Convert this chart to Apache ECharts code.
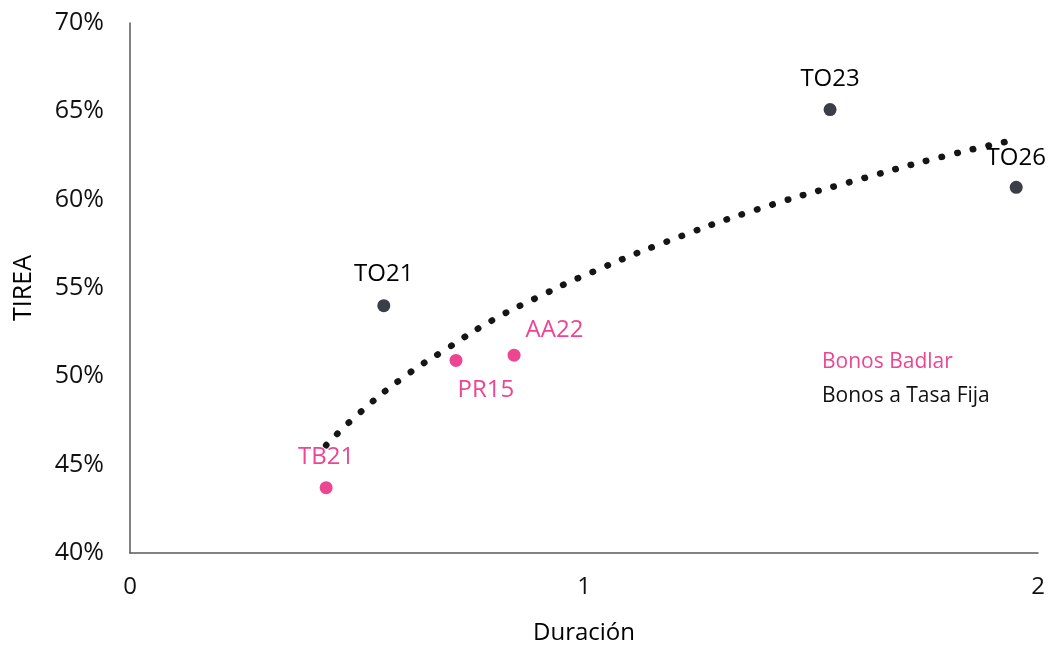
<!DOCTYPE html>
<html><head><meta charset="utf-8">
<script src="https://cdn.jsdelivr.net/npm/echarts@6/dist/echarts.min.js"></script>
<style>html,body{margin:0;padding:0;background:#fff}#c{width:1053px;height:646px}</style>
</head><body><div id="c"></div>
<script>
// Bonos Badlar
const badlarNames = ['TB21', 'PR15', 'AA22'];
const badlarX = [0.432, 0.718, 0.846];
const badlarY = [43.7, 50.9, 51.2];
// Bonos a Tasa Fija
const fijaNames = ['TO21', 'TO23', 'TO26'];
const fijaX = [0.559, 1.542, 1.952];
const fijaY = [54.0, 65.1, 60.7];
// Trend line
const trendX = [0.432, 0.5, 0.6, 0.7, 0.8, 0.9, 1.0, 1.2, 1.4, 1.6, 1.8, 1.952];
const trendY = [46.1, 47.8, 49.9, 51.6, 53.2, 54.5, 55.7, 57.8, 59.6, 61.1, 62.5, 63.4];
const yTicks = [40, 45, 50, 55, 60, 65, 70];
const xTicks = [0, 1, 2];

const PINK = '#EE4593';
const DARK = '#3B3E46';
const FONT = 'Open Sans';

const badlarLabelPos = {
  TB21: { position: 'top', distance: 12 },
  PR15: { position: [8, 24] },
  AA22: { position: [18, -30] }
};
const fijaLabelPos = {
  TO21: { position: 'top', distance: 13 },
  TO23: { position: 'top', distance: 12 },
  TO26: { position: 'top', distance: 11 }
};

const chart = echarts.init(document.getElementById('c'), null, { renderer: 'canvas' });
chart.setOption({
  animation: false,
  backgroundColor: '#fff',
  grid: { left: 130, right: 15, top: 23, bottom: 93, containLabel: false, outerBoundsMode: 'none' },
  legend: {
    orient: 'vertical', left: 812, top: 347, itemGap: 13,
    icon: 'rect', itemWidth: 0, itemHeight: 0,
    selectedMode: false,
    textStyle: { fontFamily: FONT, fontSize: 21 },
    data: [
      { name: 'Bonos Badlar', textStyle: { color: PINK } },
      { name: 'Bonos a Tasa Fija', textStyle: { color: '#111' } }
    ]
  },
  xAxis: {
    type: 'value', min: xTicks[0], max: xTicks[xTicks.length - 1], interval: 1,
    name: 'Duración', nameLocation: 'middle', nameGap: 68,
    nameTextStyle: { fontFamily: FONT, fontSize: 24, color: '#000' },
    axisLine: { show: true, lineStyle: { color: '#595959', width: 1.5 } },
    axisTick: { show: false }, splitLine: { show: false },
    axisLabel: { fontFamily: FONT, fontSize: 24, color: '#111', margin: 22 }
  },
  yAxis: {
    type: 'value', min: yTicks[0], max: yTicks[yTicks.length - 1], interval: 5,
    name: 'TIREA', nameLocation: 'middle', nameGap: 94, nameRotate: 90,
    nameTextStyle: { fontFamily: FONT, fontSize: 25, color: '#000' },
    axisLine: { show: true, lineStyle: { color: '#595959', width: 1.5 } },
    axisTick: { show: false }, splitLine: { show: false },
    axisLabel: { fontFamily: FONT, fontSize: 25, color: '#111', margin: 26, formatter: '{value}%' }
  },
  series: [
    {
      name: 'Tendencia', type: 'line', smooth: true, symbol: 'none', z: 1,
      data: trendX.map((x, i) => [x, trendY[i]]),
      lineStyle: { color: '#151515', width: 6.5, type: [0.5, 15.5], cap: 'round' }
    },
    {
      name: 'Bonos Badlar', type: 'scatter', symbolSize: 13, z: 3,
      itemStyle: { color: PINK, opacity: 1 },
      data: badlarX.map((x, i) => ({
        value: [x, badlarY[i]], name: badlarNames[i],
        label: Object.assign({ show: true, formatter: badlarNames[i], color: PINK,
          fontFamily: FONT, fontSize: 24 }, badlarLabelPos[badlarNames[i]])
      }))
    },
    {
      name: 'Bonos a Tasa Fija', type: 'scatter', symbolSize: 13, z: 3,
      itemStyle: { color: DARK, opacity: 1 },
      data: fijaX.map((x, i) => ({
        value: [x, fijaY[i]], name: fijaNames[i],
        label: Object.assign({ show: true, formatter: fijaNames[i], color: '#000',
          fontFamily: FONT, fontSize: 24 }, fijaLabelPos[fijaNames[i]])
      }))
    }
  ]
});
</script></body></html>
